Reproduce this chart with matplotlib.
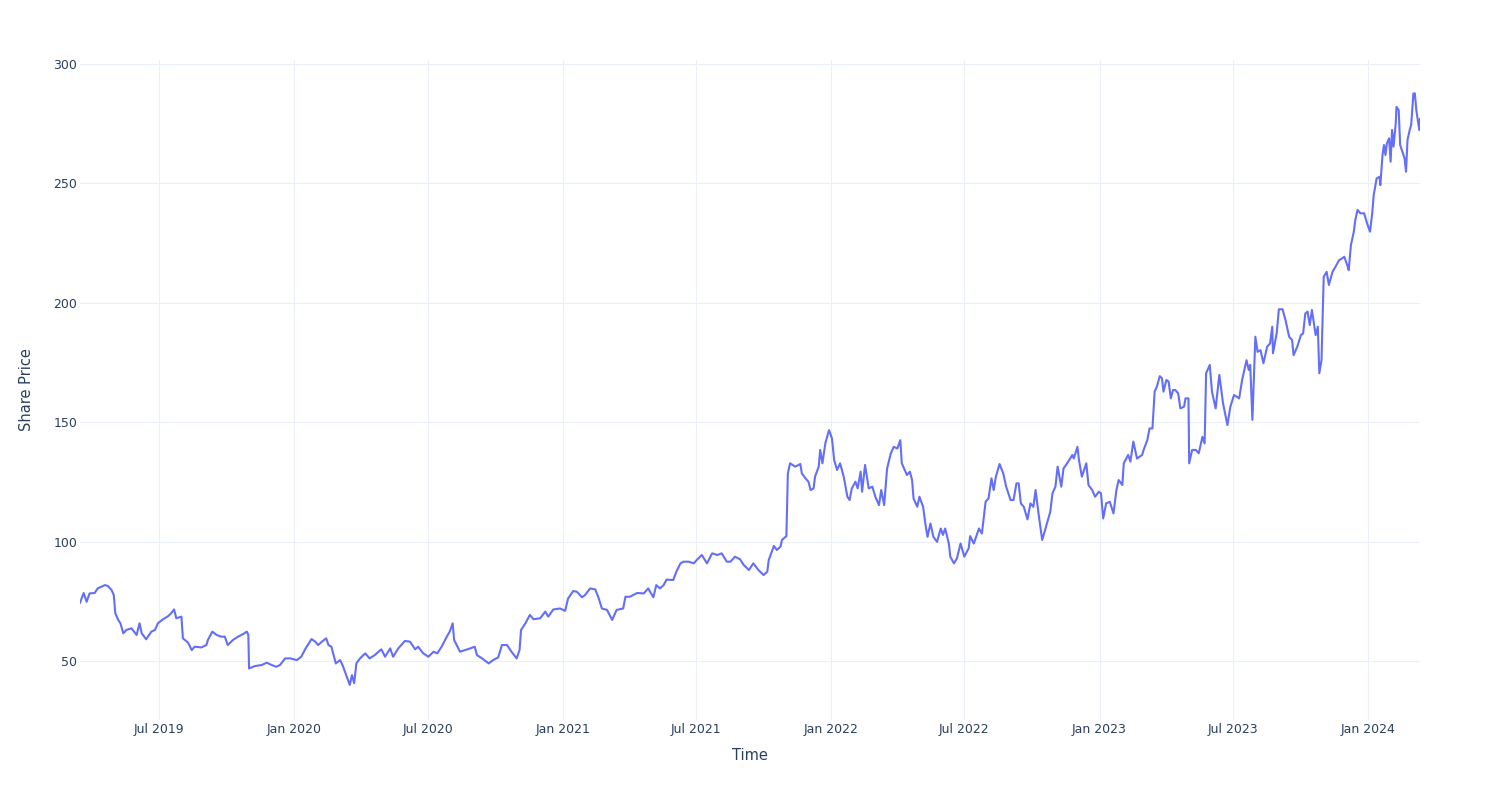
import matplotlib
matplotlib.use("Agg")
from matplotlib import pyplot as plt
import matplotlib.dates as mdates
import pandas as pd

# share price (approx, irregular sampling)
dates = [
    "2019-03-16", "2019-03-21", "2019-03-25", "2019-03-29", "2019-04-05", "2019-04-09", "2019-04-19", "2019-04-23",
    "2019-04-28", "2019-05-01", "2019-05-03", "2019-05-07", "2019-05-10", "2019-05-14", "2019-05-18", "2019-05-25",
    "2019-06-01", "2019-06-05", "2019-06-08", "2019-06-14", "2019-06-21", "2019-06-26", "2019-06-30", "2019-07-07",
    "2019-07-14", "2019-07-18", "2019-07-22", "2019-07-25", "2019-08-01", "2019-08-03", "2019-08-10", "2019-08-15",
    "2019-08-19", "2019-08-28", "2019-09-04", "2019-09-06", "2019-09-12", "2019-09-18", "2019-09-24", "2019-09-29",
    "2019-10-03", "2019-10-10", "2019-10-17", "2019-10-24", "2019-10-29", "2019-10-31", "2019-11-01", "2019-11-09",
    "2019-11-18", "2019-11-25", "2019-12-02", "2019-12-08", "2019-12-13", "2019-12-20", "2019-12-27", "2020-01-05",
    "2020-01-11", "2020-01-17", "2020-01-25", "2020-01-30", "2020-02-03", "2020-02-08", "2020-02-14", "2020-02-17",
    "2020-02-21", "2020-02-27", "2020-03-04", "2020-03-08", "2020-03-13", "2020-03-17", "2020-03-20", "2020-03-23",
    "2020-03-26", "2020-03-31", "2020-04-07", "2020-04-13", "2020-04-20", "2020-04-29", "2020-05-04", "2020-05-11",
    "2020-05-15", "2020-05-22", "2020-05-31", "2020-06-07", "2020-06-14", "2020-06-18", "2020-06-25", "2020-07-02",
    "2020-07-09", "2020-07-14", "2020-07-20", "2020-07-27", "2020-07-31", "2020-08-04", "2020-08-06", "2020-08-14",
    "2020-08-21", "2020-08-28", "2020-09-03", "2020-09-06", "2020-09-13", "2020-09-22", "2020-09-28", "2020-10-05",
    "2020-10-10", "2020-10-17", "2020-10-23", "2020-10-30", "2020-11-03", "2020-11-05", "2020-11-11", "2020-11-17",
    "2020-11-22", "2020-12-01", "2020-12-08", "2020-12-12", "2020-12-19", "2020-12-28", "2021-01-04", "2021-01-08",
    "2021-01-15", "2021-01-20", "2021-01-27", "2021-01-31", "2021-02-07", "2021-02-14", "2021-02-18", "2021-02-23",
    "2021-03-02", "2021-03-09", "2021-03-15", "2021-03-24", "2021-03-27", "2021-04-02", "2021-04-12", "2021-04-21",
    "2021-04-27", "2021-05-04", "2021-05-08", "2021-05-13", "2021-05-18", "2021-05-22", "2021-05-31", "2021-06-05",
    "2021-06-10", "2021-06-14", "2021-06-21", "2021-06-28", "2021-07-02", "2021-07-09", "2021-07-16", "2021-07-23",
    "2021-07-30", "2021-08-05", "2021-08-12", "2021-08-17", "2021-08-23", "2021-08-30", "2021-09-04", "2021-09-11",
    "2021-09-17", "2021-09-24", "2021-10-01", "2021-10-06", "2021-10-08", "2021-10-15", "2021-10-19", "2021-10-24",
    "2021-10-26", "2021-11-01", "2021-11-03", "2021-11-06", "2021-11-13", "2021-11-20", "2021-11-22", "2021-11-27",
    "2021-12-01", "2021-12-04", "2021-12-08", "2021-12-10", "2021-12-15", "2021-12-17", "2021-12-20", "2021-12-24",
    "2021-12-29", "2022-01-02", "2022-01-05", "2022-01-09", "2022-01-13", "2022-01-18", "2022-01-23", "2022-01-26",
    "2022-01-29", "2022-02-03", "2022-02-06", "2022-02-10", "2022-02-12", "2022-02-16", "2022-02-21", "2022-02-26",
    "2022-03-02", "2022-03-07", "2022-03-10", "2022-03-14", "2022-03-18", "2022-03-23", "2022-03-27", "2022-04-01",
    "2022-04-05", "2022-04-07", "2022-04-14", "2022-04-18", "2022-04-21", "2022-04-23", "2022-04-28", "2022-05-01",
    "2022-05-06", "2022-05-09", "2022-05-12", "2022-05-16", "2022-05-20", "2022-05-25", "2022-05-30", "2022-06-02",
    "2022-06-05", "2022-06-10", "2022-06-12", "2022-06-17", "2022-06-21", "2022-06-26", "2022-07-01", "2022-07-07",
    "2022-07-09", "2022-07-14", "2022-07-21", "2022-07-25", "2022-07-30", "2022-08-03", "2022-08-07", "2022-08-10",
    "2022-08-13", "2022-08-18", "2022-08-23", "2022-08-27", "2022-09-02", "2022-09-06", "2022-09-10", "2022-09-13",
    "2022-09-16", "2022-09-20", "2022-09-25", "2022-09-29", "2022-10-03", "2022-10-06", "2022-10-10", "2022-10-15",
    "2022-10-19", "2022-10-24", "2022-10-26", "2022-10-29", "2022-11-02", "2022-11-05", "2022-11-10", "2022-11-13",
    "2022-11-18", "2022-11-25", "2022-11-27", "2022-12-02", "2022-12-04", "2022-12-08", "2022-12-14", "2022-12-17",
    "2022-12-22", "2022-12-26", "2022-12-31", "2023-01-03", "2023-01-06", "2023-01-10", "2023-01-15", "2023-01-20",
    "2023-01-24", "2023-01-27", "2023-02-01", "2023-02-03", "2023-02-09", "2023-02-12", "2023-02-16", "2023-02-21",
    "2023-02-28", "2023-03-02", "2023-03-07", "2023-03-10", "2023-03-14", "2023-03-17", "2023-03-20", "2023-03-24",
    "2023-03-27", "2023-03-29", "2023-04-02", "2023-04-05", "2023-04-08", "2023-04-11", "2023-04-14", "2023-04-18",
    "2023-04-21", "2023-04-26", "2023-04-28", "2023-05-02", "2023-05-03", "2023-05-07", "2023-05-12", "2023-05-16",
    "2023-05-21", "2023-05-24", "2023-05-26", "2023-05-31", "2023-06-03", "2023-06-08", "2023-06-13", "2023-06-18",
    "2023-06-24", "2023-06-28", "2023-07-03", "2023-07-10", "2023-07-14", "2023-07-20", "2023-07-23", "2023-07-25",
    "2023-07-28", "2023-08-01", "2023-08-04", "2023-08-08", "2023-08-12", "2023-08-17", "2023-08-21", "2023-08-24",
    "2023-08-25", "2023-08-30", "2023-09-02", "2023-09-07", "2023-09-11", "2023-09-16", "2023-09-20", "2023-09-22",
    "2023-09-27", "2023-10-02", "2023-10-05", "2023-10-08", "2023-10-11", "2023-10-14", "2023-10-17", "2023-10-22",
    "2023-10-25", "2023-10-27", "2023-10-30", "2023-11-02", "2023-11-06", "2023-11-09", "2023-11-14", "2023-11-18",
    "2023-11-23", "2023-11-27", "2023-11-30", "2023-12-04", "2023-12-06", "2023-12-09", "2023-12-13", "2023-12-15",
    "2023-12-18", "2023-12-22", "2023-12-27", "2023-12-31", "2024-01-04", "2024-01-07", "2024-01-09", "2024-01-13",
    "2024-01-17", "2024-01-18", "2024-01-21", "2024-01-23", "2024-01-25", "2024-01-27", "2024-01-30", "2024-02-01",
    "2024-02-03", "2024-02-05", "2024-02-08", "2024-02-09", "2024-02-12", "2024-02-14", "2024-02-17", "2024-02-20",
    "2024-02-22", "2024-02-24", "2024-02-27", "2024-02-29", "2024-03-03", "2024-03-05", "2024-03-07", "2024-03-11",
    "2024-03-12",
]
price = [
    74.4, 78.5, 74.8, 78.3, 78.5, 80.4, 81.8, 81.4, 79.7, 77.6, 70.0, 67.2, 65.8, 61.6, 63.0, 63.7,
    60.9, 65.8, 61.6, 59.1, 62.3, 63.0, 65.8, 67.5, 68.8, 70.0, 71.6, 67.9, 68.6, 59.5, 57.7, 54.6,
    56.0, 55.7, 56.7, 58.8, 62.3, 60.9, 60.2, 60.2, 56.7, 58.8, 60.2, 61.3, 62.3, 60.9, 46.9, 47.9,
    48.3, 49.3, 48.3, 47.6, 48.3, 51.1, 51.1, 50.4, 51.8, 55.3, 59.2, 58.1, 56.7, 58.1, 59.5, 56.7,
    56.0, 49.0, 50.4, 47.6, 43.4, 40.0, 44.1, 40.7, 49.0, 51.1, 53.2, 51.1, 52.5, 54.9, 51.8, 55.3,
    51.8, 55.3, 58.4, 58.1, 54.9, 56.0, 53.2, 51.8, 53.9, 53.2, 56.0, 60.2, 62.3, 65.8, 58.8, 53.9,
    54.6, 55.3, 56.0, 52.5, 51.1, 49.0, 50.4, 51.5, 56.7, 56.7, 53.9, 51.1, 54.6, 63.0, 65.8, 69.3,
    67.5, 67.9, 70.7, 68.6, 71.6, 72.0, 71.0, 76.2, 79.3, 79.0, 76.7, 77.6, 80.4, 80.0, 76.9, 72.0,
    71.4, 67.2, 71.4, 72.0, 76.9, 76.9, 78.5, 78.3, 80.4, 76.7, 81.8, 80.4, 81.8, 84.1, 83.9, 87.9,
    90.9, 91.6, 91.6, 90.9, 92.3, 94.4, 90.9, 95.1, 94.4, 95.1, 91.6, 91.6, 93.7, 92.6, 90.2, 88.1,
    90.9, 88.1, 86.0, 87.4, 92.3, 98.2, 96.5, 97.9, 100.7, 102.3, 128.6, 132.8, 131.4, 132.5, 128.6, 126.5,
    125.1, 121.6, 122.3, 127.2, 131.4, 138.4, 132.8, 141.2, 146.7, 143.2, 134.2, 130.0, 132.8, 127.2, 118.8, 117.4,
    122.3, 125.1, 122.3, 129.3, 120.9, 132.1, 122.3, 123.0, 118.8, 115.3, 121.6, 115.3, 130.6, 136.9, 139.7, 139.0,
    142.5, 132.8, 127.9, 129.3, 125.8, 118.1, 114.6, 118.8, 114.6, 107.6, 102.0, 107.6, 102.0, 99.9, 105.5, 102.8,
    105.5, 99.2, 93.7, 90.9, 93.0, 99.2, 93.7, 97.2, 102.3, 99.2, 105.5, 103.4, 116.7, 118.1, 126.5, 121.6,
    127.2, 132.5, 128.6, 123.0, 117.4, 117.4, 124.4, 124.4, 116.0, 114.6, 109.3, 116.0, 114.6, 121.6, 111.8, 100.7,
    104.9, 110.4, 112.5, 120.2, 123.0, 131.4, 123.0, 130.6, 132.8, 136.3, 134.8, 139.7, 134.2, 127.2, 132.8, 123.7,
    121.6, 118.8, 120.9, 120.2, 109.7, 116.0, 116.7, 111.8, 121.6, 125.8, 123.7, 132.8, 136.3, 133.5, 141.9, 134.8,
    136.3, 138.4, 142.5, 147.4, 147.4, 162.8, 164.9, 169.3, 168.4, 162.8, 167.7, 167.0, 160.0, 163.5, 163.5, 162.1,
    155.8, 156.5, 160.0, 160.0, 132.8, 138.4, 138.4, 137.0, 143.9, 141.1, 170.5, 174.0, 162.8, 155.8, 169.8, 158.0,
    148.8, 156.5, 161.4, 160.0, 167.7, 176.0, 171.9, 174.0, 151.0, 185.8, 179.5, 180.2, 174.7, 181.6, 183.0, 190.0,
    178.9, 187.2, 197.3, 197.3, 192.8, 185.8, 184.4, 178.1, 181.6, 186.5, 187.2, 195.6, 196.3, 190.7, 197.0, 186.5,
    190.0, 170.5, 176.0, 210.9, 213.0, 207.5, 213.0, 215.1, 217.9, 218.6, 219.3, 215.8, 213.7, 224.2, 229.8, 234.7,
    238.9, 237.5, 237.5, 233.3, 229.8, 237.5, 245.1, 252.1, 252.8, 249.3, 261.9, 266.1, 261.9, 266.8, 268.9, 259.1,
    272.4, 265.4, 275.2, 282.1, 280.7, 266.1, 263.3, 260.5, 254.9, 268.2, 272.4, 274.5, 287.7, 287.7, 280.7, 272.4,
    277.0,
]

dates = pd.to_datetime(dates)

text_color = "#2a3f5f"
grid_color = "#EBF0F8"

fig = plt.figure(figsize=(15, 8), dpi=100)
ax = fig.add_axes([80 / 1500, 80 / 800, 1340 / 1500, 660 / 800])

ax.plot(dates, price, color="#636efa", linewidth=1.5, zorder=3)

ax.set_xlim(dates[0], dates[-1])
ax.set_ylim(25.3, 301.7)

ax.set_yticks([50, 100, 150, 200, 250, 300])
ax.xaxis.set_major_locator(mdates.MonthLocator(bymonth=[1, 7]))
ax.xaxis.set_major_formatter(mdates.DateFormatter("%b %Y"))

ax.grid(True, color=grid_color, linewidth=0.8, zorder=0)
ax.set_axisbelow(True)
for s in ax.spines.values():
    s.set_visible(False)
ax.tick_params(axis="both", length=0, labelsize=9, labelcolor=text_color)
ax.tick_params(axis="x", pad=2)
ax.tick_params(axis="y", pad=2)

ax.set_xlabel("Time", fontsize=10.5, color=text_color, va="center")
ax.xaxis.set_label_coords(0.5, -36 / 660)
ax.set_ylabel("Share Price", fontsize=10.5, color=text_color, va="center")
ax.yaxis.set_label_coords(-53 / 1340, 0.5)

plt.savefig("out.png", dpi=100)
